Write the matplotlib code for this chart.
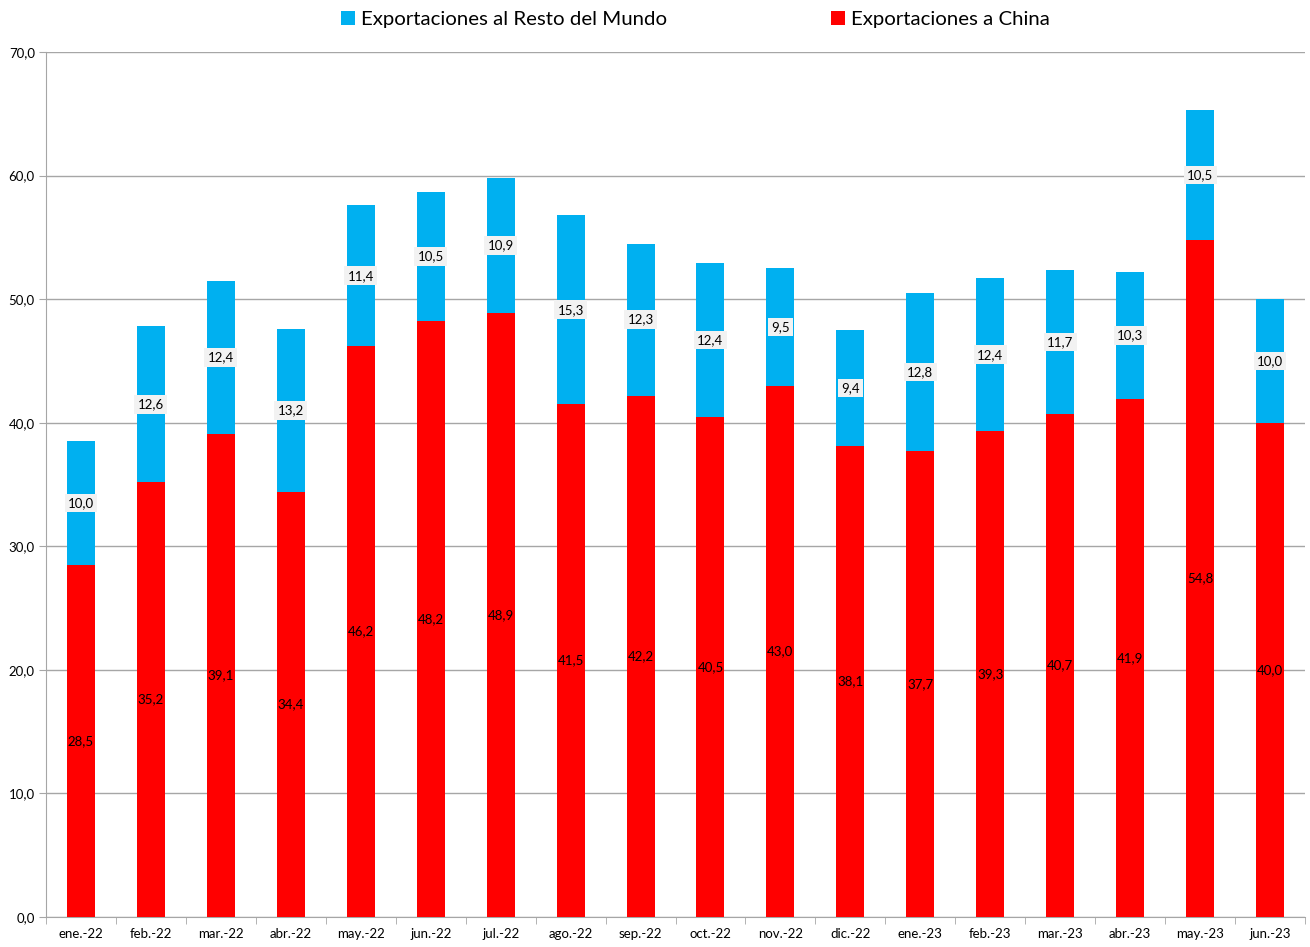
import matplotlib
matplotlib.use("Agg")
import matplotlib.pyplot as plt
import numpy as np
from matplotlib.ticker import FixedLocator, FuncFormatter

months = ["ene.-22", "feb.-22", "mar.-22", "abr.-22", "may.-22", "jun.-22", "jul.-22",
          "ago.-22", "sep.-22", "oct.-22", "nov.-22", "dic.-22", "ene.-23", "feb.-23",
          "mar.-23", "abr.-23", "may.-23", "jun.-23"]
china = [28.5, 35.2, 39.1, 34.4, 46.2, 48.2, 48.9, 41.5, 42.2, 40.5, 43.0, 38.1,
         37.7, 39.3, 40.7, 41.9, 54.8, 40.0]
resto = [10.0, 12.6, 12.4, 13.2, 11.4, 10.5, 10.9, 15.3, 12.3, 12.4, 9.5, 9.4,
         12.8, 12.4, 11.7, 10.3, 10.5, 10.0]

plt.rcParams['font.family'] = ['Lato', 'DejaVu Sans']

RED = "#FF0000"
BLUE = "#00B0F0"
GRID = "#A6A6A6"

fig = plt.figure(figsize=(13.1, 9.47), dpi=100)
ax = fig.add_axes([0.0351, 0.0317, 0.9611, 0.9133])

x = np.arange(len(months))
w = 0.4
b1 = ax.bar(x, china, w, color=RED, label="Exportaciones a China", zorder=3)
b2 = ax.bar(x, resto, w, bottom=china, color=BLUE, label="Exportaciones al Resto del Mundo", zorder=3)

fmt = lambda v: f"{v:.1f}".replace(".", ",")
for xi, c, r in zip(x, china, resto):
    ax.text(xi, c / 2, fmt(c), ha="center", va="center", fontsize=9.5, color="#000000", zorder=5)
    ax.text(xi, c + r / 2, fmt(r), ha="center", va="center", fontsize=9.5, color="#000000", zorder=5,
            bbox=dict(boxstyle="square,pad=0.25", facecolor="#F2F2F2", edgecolor="none"))

ax.set_xlim(-0.5, len(months) - 0.5)
ax.set_ylim(0, 70)
ax.yaxis.set_major_locator(FixedLocator(np.arange(0, 71, 10)))
ax.yaxis.set_major_formatter(FuncFormatter(lambda v, p: fmt(v)))
ax.grid(axis="y", color=GRID, linewidth=1, zorder=0)

ax.set_xticks(x)
ax.set_xticklabels(months)
ax.set_xticks(np.arange(-0.5, len(months), 1), minor=True)
ax.tick_params(axis="x", which="major", length=0, labelsize=9.5, pad=8)
ax.tick_params(axis="x", which="minor", length=5, color=GRID)
ax.tick_params(axis="y", length=5, color=GRID, labelsize=9.5, pad=3)

for s in ["top", "right"]:
    ax.spines[s].set_visible(False)
for s in ["left", "bottom"]:
    ax.spines[s].set_color(GRID)

handles = [b2, b1]
fig.legend(handles, [h.get_label() for h in handles], loc="upper center",
           bbox_to_anchor=(0.531, 1.008), ncol=2, frameon=False, fontsize=14.7,
           handlelength=0.7, handleheight=0.7, handletextpad=0.3, columnspacing=8.0)

fig.savefig("out.png", dpi=100)
